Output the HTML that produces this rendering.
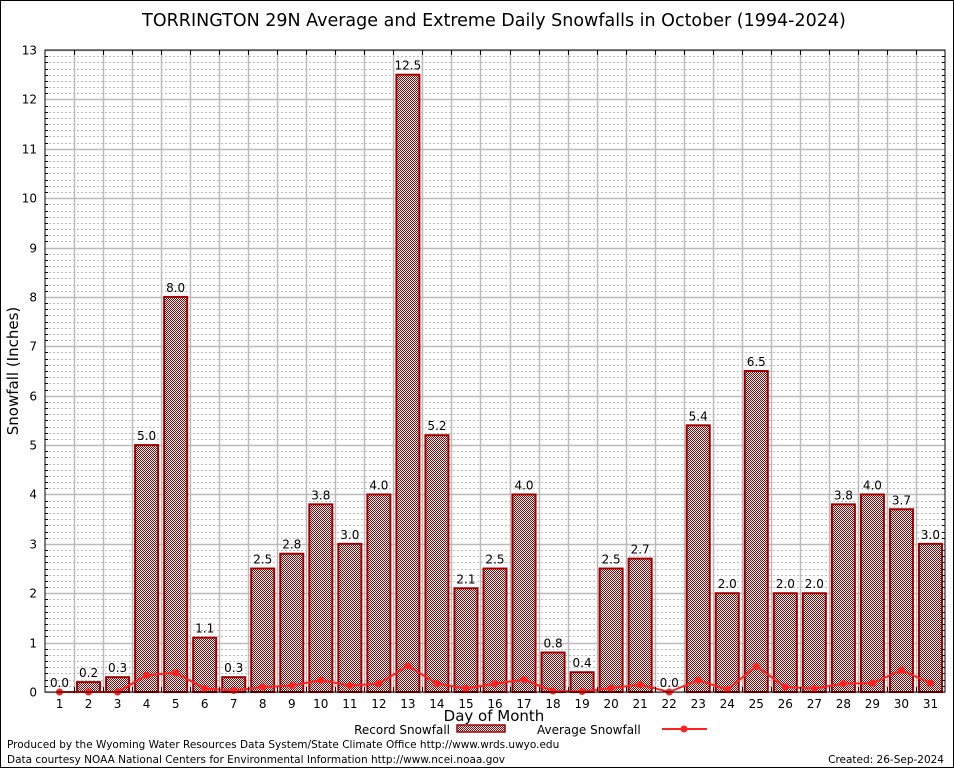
<!DOCTYPE html>
<html><head><meta charset="utf-8"><style>
body{margin:0;background:#fff}
svg text{font-family:"DejaVu Sans","Liberation Sans",sans-serif}
</style></head><body>
<svg id="c" width="954" height="768" viewBox="0 0 954 768" xmlns="http://www.w3.org/2000/svg">
<defs>
<pattern id="hatch" width="2" height="2" patternUnits="userSpaceOnUse">
<rect width="2" height="2" fill="#fff"/>
<rect width="1" height="1" fill="#900000"/>
<rect x="1" y="1" width="1" height="1" fill="#900000"/>
</pattern>
</defs>
<rect x="0.5" y="0.5" width="953" height="767" fill="#fff" stroke="#000"/>
<text x="494" y="26" font-size="17.5" text-anchor="middle">TORRINGTON 29N Average and Extreme Daily Snowfalls in October (1994-2024)</text>
<g id="grid"></g>
<g id="bars"></g>
<g id="avg"></g>
<rect x="45" y="50" width="900" height="642" fill="none" stroke="#000"/>
<g id="axes"></g>
<text x="18" y="371" font-size="15" text-anchor="middle" transform="rotate(-90 18 371)">Snowfall (Inches)</text>
<text x="494" y="721" font-size="15" text-anchor="middle">Day of Month</text>
<g>
<text x="450" y="734" font-size="12" text-anchor="end">Record Snowfall</text>
<rect x="457" y="725" width="48" height="7" fill="url(#hatch)" stroke="#a00000" stroke-width="1.5"/>
</g>
<g>
<text x="537" y="734" font-size="12">Average Snowfall</text>
<line x1="662" y1="729" x2="707" y2="729" stroke="#ff2020" stroke-width="2"/>
<circle cx="684" cy="729" r="3.5" fill="#ff2020"/>
</g>
<text x="7" y="748" font-size="10.5">Produced by the Wyoming Water Resources Data System/State Climate Office http://www.wrds.uwyo.edu</text>
<text x="7" y="763" font-size="10.5">Data courtesy NOAA National Centers for Environmental Information http://www.ncei.noaa.gov</text>
<text x="944" y="763" font-size="10.5" text-anchor="end">Created: 26-Sep-2024</text>
</svg>
<script>
const days=[1,2,3,4,5,6,7,8,9,10,11,12,13,14,15,16,17,18,19,20,21,22,23,24,25,26,27,28,29,30,31];
const records=[0.0,0.2,0.3,5.0,8.0,1.1,0.3,2.5,2.8,3.8,3.0,4.0,12.5,5.2,2.1,2.5,4.0,0.8,0.4,2.5,2.7,0.0,5.4,2.0,6.5,2.0,2.0,3.8,4.0,3.7,3.0];
const averages=[0,0,0,0.34,0.39,0.07,0.03,0.1,0.13,0.24,0.13,0.17,0.53,0.17,0.07,0.17,0.25,0.02,0.01,0.08,0.15,0,0.24,0.05,0.52,0.1,0.07,0.17,0.18,0.44,0.18];
const yTicks=[0,1,2,3,4,5,6,7,8,9,10,11,12,13];
const NS="http://www.w3.org/2000/svg";
const L=45,R=945,T=50,B=692,yMax=13;
const bw=(R-L)/days.length;
const x=d=>L+(d-0.5)*bw;
const y=v=>B-v/yMax*(B-T);
function mk(tag,attrs,parent){const e=document.createElementNS(NS,tag);for(const k in attrs)e.setAttribute(k,attrs[k]);parent.appendChild(e);return e;}
const grid=document.getElementById('grid'),bars=document.getElementById('bars'),avg=document.getElementById('avg'),axes=document.getElementById('axes');
for(let v=0;v<yMax;v+=1){for(let k=1;k<8;k++){const yy=Math.round(y(v+k/8))+0.5;
const ln=mk('line',{x1:L,x2:R,y1:yy,y2:yy,stroke:'#bbb','stroke-dasharray':'2,2','stroke-width':1},grid);

}}
yTicks.forEach(t=>{const yy=Math.round(y(t))+0.5;
const ln=mk('line',{x1:L,x2:R,y1:yy,y2:yy,stroke:'#bbb','stroke-width':1.5},grid);


const tx=mk('text',{x:L-8,y:yy+4,'font-size':12,'text-anchor':'end','font-family':'Liberation Serif,serif'},axes);tx.textContent=t;


});
for(let i=1;i<days.length;i++){const xx=Math.round(L+i*bw)+0.5;
const ln=mk('line',{x1:xx,x2:xx,y1:T,y2:B,stroke:'#bbb','stroke-width':1.5},grid);


mk('line',{x1:xx,x2:xx,y1:T,y2:T+5,stroke:'#000'},axes);
mk('line',{x1:xx,x2:xx,y1:B,y2:B-5,stroke:'#000'},axes);}
for(let v=0;v<yMax;v+=1){for(let k=1;k<8;k++){const yy=Math.round(y(v+k/8))+0.5;mk('line',{x1:L,x2:L+3,y1:yy,y2:yy,stroke:'#000'},axes);mk('line',{x1:R-3,x2:R,y1:yy,y2:yy,stroke:'#000'},axes);}}
days.forEach((d,i)=>{const v=records[i],cx=x(d);
if(v>0){const r=mk('rect',{x:cx-11.5,y:y(v),width:23,height:B-y(v),fill:'url(#hatch)',stroke:'#a00000','stroke-width':2},bars);

}
const lb=mk('text',{x:cx,y:y(v)-5,'font-size':12,'text-anchor':'middle'},bars);lb.textContent=v.toFixed(1);


const tl=mk('text',{x:cx,y:B+16,'font-size':12,'text-anchor':'middle','font-family':'Liberation Serif,serif'},axes);tl.textContent=d;


});
const pts=days.map((d,i)=>x(d)+','+y(averages[i])).join(' ');
const pl=mk('polyline',{points:pts,fill:'none',stroke:'#ff2020','stroke-width':2},avg);


days.forEach((d,i)=>{const c=mk('circle',{cx:x(d),cy:y(averages[i]),r:3.5,fill:'#ff2020'},avg);

});
</script>
</body></html>
